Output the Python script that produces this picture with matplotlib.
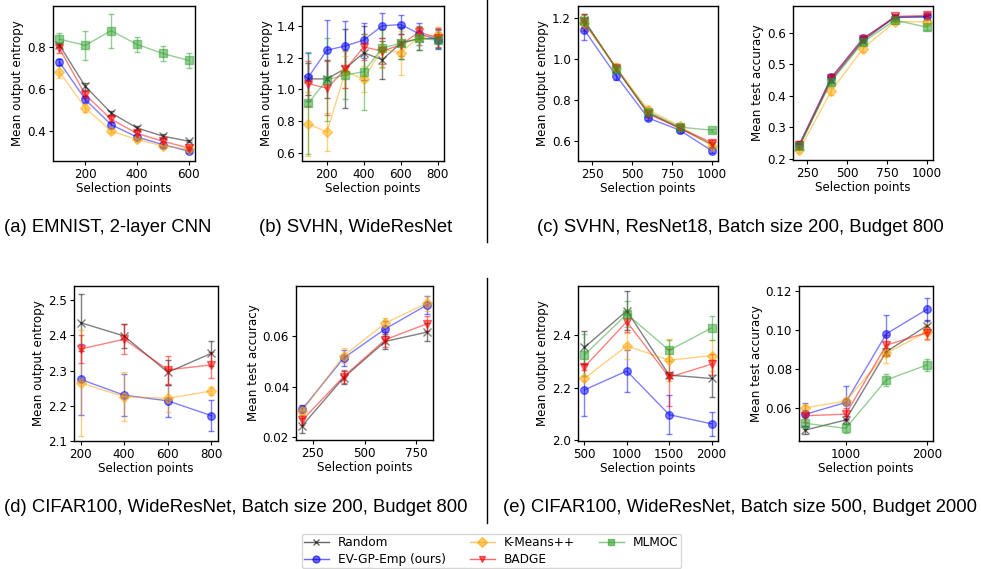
import matplotlib
matplotlib.use("Agg")
import matplotlib.pyplot as plt
from matplotlib.lines import Line2D

W, H = 981, 569

methods = ["Random", "EV-GP-Emp (ours)", "K-Means++", "BADGE", "MLMOC"]
colors = ["black", "blue", "orange", "red", "tab:green"]
markers = ["x", "o", "D", "v", "s"]

# (a) EMNIST, 2-layer CNN - entropy
a_x = [100, 200, 300, 400, 500, 600]
a_y = {
    "Random": [0.808, 0.612, 0.486, 0.415, 0.376, 0.352],
    "EV-GP-Emp (ours)": [0.727, 0.550, 0.430, 0.372, 0.336, 0.305],
    "K-Means++": [0.680, 0.510, 0.400, 0.360, 0.330, 0.314],
    "BADGE": [0.792, 0.573, 0.456, 0.389, 0.352, 0.320],
    "MLMOC": [0.836, 0.806, 0.876, 0.811, 0.768, 0.735],
}
a_e = {
    "Random": [0.010, 0.015, 0.010, 0.008, 0.008, 0.006],
    "EV-GP-Emp (ours)": [0.015, 0.015, 0.015, 0.010, 0.010, 0.010],
    "K-Means++": [0.030, 0.020, 0.010, 0.010, 0.010, 0.010],
    "BADGE": [0.020, 0.015, 0.015, 0.010, 0.010, 0.010],
    "MLMOC": [0.030, 0.070, 0.080, 0.035, 0.035, 0.035],
}

# (b) SVHN, WideResNet - entropy
b_x = [100, 200, 300, 400, 500, 600, 700, 800]
b_y = {
    "Random": [1.065, 1.065, 1.130, 1.230, 1.186, 1.290, 1.320, 1.320],
    "EV-GP-Emp (ours)": [1.077, 1.246, 1.273, 1.310, 1.400, 1.408, 1.350, 1.313],
    "K-Means++": [0.780, 0.730, 1.110, 1.065, 1.255, 1.230, 1.330, 1.340],
    "BADGE": [1.035, 1.006, 1.125, 1.267, 1.240, 1.280, 1.360, 1.325],
    "MLMOC": [0.913, 1.060, 1.090, 1.110, 1.260, 1.290, 1.320, 1.310],
}
b_e = {
    "Random": [0.10, 0.12, 0.25, 0.17, 0.12, 0.10, 0.07, 0.06],
    "EV-GP-Emp (ours)": [0.15, 0.19, 0.16, 0.11, 0.08, 0.06, 0.07, 0.06],
    "K-Means++": [0.20, 0.12, 0.10, 0.08, 0.12, 0.14, 0.05, 0.05],
    "BADGE": [0.14, 0.17, 0.12, 0.08, 0.08, 0.07, 0.04, 0.06],
    "MLMOC": [0.32, 0.26, 0.15, 0.24, 0.12, 0.10, 0.07, 0.05],
}

# (c) SVHN, ResNet18 - entropy and accuracy
c_x = [200, 400, 600, 800, 1000]
c1_y = {
    "Random": [1.190, 0.955, 0.740, 0.665, 0.585],
    "EV-GP-Emp (ours)": [1.143, 0.920, 0.715, 0.655, 0.555],
    "K-Means++": [1.175, 0.960, 0.755, 0.675, 0.580],
    "BADGE": [1.180, 0.960, 0.735, 0.665, 0.595],
    "MLMOC": [1.185, 0.955, 0.745, 0.670, 0.655],
}
c1_e = {
    "Random": [0.030, 0.015, 0.012, 0.010, 0.010],
    "EV-GP-Emp (ours)": [0.050, 0.020, 0.012, 0.012, 0.012],
    "K-Means++": [0.030, 0.020, 0.020, 0.010, 0.010],
    "BADGE": [0.040, 0.015, 0.015, 0.010, 0.010],
    "MLMOC": [0.030, 0.015, 0.012, 0.010, 0.008],
}
c2_y = {
    "Random": [0.240, 0.450, 0.575, 0.650, 0.650],
    "EV-GP-Emp (ours)": [0.245, 0.458, 0.582, 0.648, 0.652],
    "K-Means++": [0.228, 0.415, 0.550, 0.635, 0.635],
    "BADGE": [0.245, 0.455, 0.580, 0.652, 0.655],
    "MLMOC": [0.240, 0.445, 0.570, 0.640, 0.618],
}
c2_e = {
    "Random": [0.010, 0.010, 0.008, 0.006, 0.006],
    "EV-GP-Emp (ours)": [0.012, 0.010, 0.008, 0.006, 0.006],
    "K-Means++": [0.010, 0.012, 0.010, 0.006, 0.006],
    "BADGE": [0.010, 0.010, 0.008, 0.006, 0.006],
    "MLMOC": [0.010, 0.010, 0.008, 0.006, 0.008],
}

# (d) CIFAR100, WideResNet, batch 200 - entropy and accuracy
d_x = [200, 400, 600, 800]
d1_y = {
    "Random": [2.436, 2.398, 2.295, 2.349],
    "EV-GP-Emp (ours)": [2.275, 2.230, 2.214, 2.172],
    "K-Means++": [2.265, 2.226, 2.221, 2.242],
    "BADGE": [2.361, 2.389, 2.302, 2.316],
}
d1_e = {
    "Random": [0.080, 0.035, 0.035, 0.035],
    "EV-GP-Emp (ours)": [0.100, 0.060, 0.045, 0.045],
    "K-Means++": [0.150, 0.070, 0.040, 0.010],
    "BADGE": [0.040, 0.042, 0.040, 0.038],
}
d2_y = {
    "Random": [0.0244, 0.0436, 0.0580, 0.0617],
    "EV-GP-Emp (ours)": [0.0310, 0.0514, 0.0630, 0.0725],
    "K-Means++": [0.0303, 0.0523, 0.0653, 0.0732],
    "BADGE": [0.0266, 0.0440, 0.0587, 0.0650],
}
d2_e = {
    "Random": [0.0030, 0.0025, 0.0030, 0.0035],
    "EV-GP-Emp (ours)": [0.0015, 0.0030, 0.0030, 0.0035],
    "K-Means++": [0.0020, 0.0030, 0.0020, 0.0030],
    "BADGE": [0.0020, 0.0025, 0.0030, 0.0030],
}

# (e) CIFAR100, WideResNet, batch 500 - entropy and accuracy
e_x = [500, 1000, 1500, 2000]
e1_y = {
    "Random": [2.354, 2.495, 2.248, 2.235],
    "EV-GP-Emp (ours)": [2.191, 2.264, 2.096, 2.061],
    "K-Means++": [2.235, 2.360, 2.305, 2.323],
    "BADGE": [2.279, 2.453, 2.240, 2.290],
    "MLMOC": [2.325, 2.482, 2.343, 2.429],
}
e1_e = {
    "Random": [0.065, 0.075, 0.010, 0.070],
    "EV-GP-Emp (ours)": [0.100, 0.080, 0.075, 0.045],
    "K-Means++": [0.010, 0.050, 0.080, 0.060],
    "BADGE": [0.012, 0.040, 0.110, 0.040],
    "MLMOC": [0.080, 0.050, 0.040, 0.045],
}
e2_y = {
    "Random": [0.0485, 0.0537, 0.0888, 0.1022],
    "EV-GP-Emp (ours)": [0.0566, 0.0627, 0.0980, 0.1106],
    "K-Means++": [0.0600, 0.0634, 0.0880, 0.0990],
    "BADGE": [0.0559, 0.0567, 0.0922, 0.0986],
    "MLMOC": [0.0520, 0.0494, 0.0743, 0.0820],
}
e2_e = {
    "Random": [0.0020, 0.0020, 0.0020, 0.0030],
    "EV-GP-Emp (ours)": [0.0060, 0.0087, 0.0095, 0.0060],
    "K-Means++": [0.0015, 0.0015, 0.0050, 0.0040],
    "BADGE": [0.0030, 0.0030, 0.0050, 0.0030],
    "MLMOC": [0.0030, 0.0025, 0.0030, 0.0030],
}

captions = [
    "(a) EMNIST, 2-layer CNN",
    "(b) SVHN, WideResNet",
    "(c) SVHN, ResNet18, Batch size 200, Budget 800",
    "(d) CIFAR100, WideResNet, Batch size 200, Budget 800",
    "(e) CIFAR100, WideResNet, Batch size 500, Budget 2000",
]

plt.rcParams["font.family"] = "DejaVu Sans"
fig = plt.figure(figsize=(W / 100, H / 100), dpi=100)

FS = 8.6


def add_ax(l, t, r, b):
    return fig.add_axes([l / W, 1 - b / H, (r - l) / W, (b - t) / H])


def draw(ax, xs, ys, es, ylabel, xlim, ylim, xticks, yticks, yfmt):
    for m, c, mk in zip(methods, colors, markers):
        if m not in ys:
            continue
        ax.errorbar(xs, ys[m], yerr=es[m], color=c, marker=mk, markersize=5.5,
                    linewidth=1, elinewidth=1, capsize=2, alpha=0.5,
                    markeredgewidth=1)
    ax.set_xlim(*xlim)
    ax.set_ylim(*ylim)
    ax.set_xticks(xticks)
    ax.set_yticks(yticks)
    ax.set_yticklabels([yfmt.format(v) for v in yticks])
    ax.set_xlabel("Selection points", fontsize=FS, labelpad=1)
    ax.set_ylabel(ylabel, fontsize=FS, labelpad=2)
    ax.tick_params(labelsize=FS, length=3, pad=2)
    for s in ax.spines.values():
        s.set_linewidth(1.0)


ax = add_ax(53, 6, 195, 161)
draw(ax, a_x, a_y, a_e, "Mean output entropy", (75, 625), (0.258, 0.993),
     [200, 400, 600], [0.4, 0.6, 0.8], "{:.1f}")
ax = add_ax(302, 6, 444, 161)
draw(ax, b_x, b_y, b_e, "Mean output entropy", (65, 835), (0.547, 1.525),
     [200, 400, 600, 800], [0.6, 0.8, 1.0, 1.2, 1.4], "{:.1f}")
ax = add_ax(578, 6, 718, 161)
draw(ax, c_x, c1_y, c1_e, "Mean output entropy", (160, 1040), (0.505, 1.26),
     [250, 500, 750, 1000], [0.6, 0.8, 1.0, 1.2], "{:.1f}")
ax = add_ax(793, 6, 933, 160)
draw(ax, c_x, c2_y, c2_e, "Mean test accuracy", (160, 1040), (0.196, 0.685),
     [250, 500, 750, 1000], [0.2, 0.3, 0.4, 0.5, 0.6], "{:.1f}")
ax = add_ax(74, 286, 218, 441)
draw(ax, d_x, d1_y, d1_e, "Mean output entropy", (170, 830), (2.1, 2.54),
     [200, 400, 600, 800], [2.1, 2.2, 2.3, 2.4, 2.5], "{:.1f}")
ax = add_ax(296, 286, 433, 440)
draw(ax, d_x, d2_y, d2_e, "Mean test accuracy", (170, 830), (0.0187, 0.0801),
     [250, 500, 750], [0.02, 0.04, 0.06], "{:.2f}")
ax = add_ax(578, 286, 718, 441)
draw(ax, e_x, e1_y, e1_e, "Mean output entropy", (425, 2075), (1.995, 2.59),
     [500, 1000, 1500, 2000], [2.0, 2.2, 2.4], "{:.1f}")
ax = add_ax(799, 286, 933, 441)
draw(ax, e_x, e2_y, e2_e, "Mean test accuracy", (425, 2075), (0.0429, 0.1226),
     [1000, 2000], [0.06, 0.08, 0.10, 0.12], "{:.2f}")

cap_pos = [(108, 228), (356, 228), (740, 228), (236, 508), (740, 508)]
for txt, (cx, cy) in zip(captions, cap_pos):
    fig.text(cx / W, 1 - cy / H, txt, ha="center", va="center",
             fontsize=13.3, family="Liberation Sans")

# separators
fig.add_artist(Line2D([486.5 / W, 486.5 / W], [1, 1 - 242 / H], color="black", lw=1))
fig.add_artist(Line2D([486.5 / W, 486.5 / W], [1 - 278 / H, 1 - 523 / H], color="black", lw=1))

handles = [Line2D([], [], color=c, marker=mk, markersize=5, lw=1, alpha=0.6)
           for c, mk in zip(colors, markers)]
fig.legend(handles, methods, ncol=3, loc="center", bbox_to_anchor=(491.5 / W, 1 - 551 / H),
           fontsize=8.7, frameon=True, borderpad=0.2, labelspacing=0.3)

fig.savefig("out.png", dpi=100)
